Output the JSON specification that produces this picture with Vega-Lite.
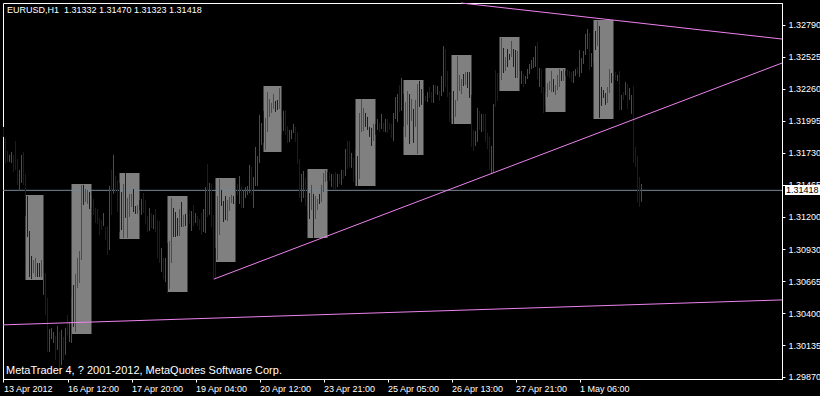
{
"$schema":"https://vega.github.io/schema/vega-lite/v6.json",
"width":779,"height":376,
"autosize":{"type":"none"},
"padding":{"left":3,"top":3,"right":38,"bottom":17},
"background":"#000000",
"config":{"view":{"stroke":"#ffffff","strokeWidth":1,"fill":"#000000"},
 "axisX":{"grid":false,"domainColor":"#ffffff","tickColor":"#ffffff","tickSize":3,"labelColor":"#ffffff","labelFont":"Liberation Sans","labelFontSize":9,"labelAlign":"left","labelBaseline":"top","labelPadding":2,"labelOverlap":false,"labelFlush":false,"labelBound":false,"title":null},
 "axisY":{"grid":false,"domainColor":"#ffffff","tickColor":"#ffffff","tickSize":3,"labelColor":"#ffffff","labelFont":"Liberation Sans","labelFontSize":9,"labelAlign":"left","labelBaseline":"middle","labelPadding":3,"labelOverlap":false,"labelFlush":false,"labelBound":false,"title":null}},
"datasets":{
"boxes":[{"a":11,"b":20,"h":1.31380,"l":1.30674},{"a":34,"b":44,"h":1.31471,"l":1.30227},{"a":58,"b":68,"h":1.31562,"l":1.31014},{"a":82,"b":92,"h":1.31371,"l":1.30574},{"a":106,"b":116,"h":1.31521,"l":1.30823},{"a":130,"b":139,"h":1.32283,"l":1.31736},{"a":152,"b":162,"h":1.31595,"l":1.31023},{"a":176,"b":186,"h":1.32175,"l":1.31454},{"a":200,"b":210,"h":1.32333,"l":1.31712},{"a":224,"b":234,"h":1.32541,"l":1.31969},{"a":248,"b":258,"h":1.32690,"l":1.32242},{"a":271,"b":281,"h":1.32433,"l":1.32068},{"a":295,"b":305,"h":1.32831,"l":1.32010}],
"lines":[{"id":"top","i":228.75,"p":1.32972},{"id":"top","i":389.25,"p":1.32673},{"id":"mid","i":105.25,"p":1.30682},{"id":"mid","i":389.25,"p":1.32474},{"id":"low","i":-0.25,"p":1.30302},{"id":"low","i":389.25,"p":1.30509}],
"bars":[
{"i":0,"h":1.31944,"l":1.31861,"c":"dn"},{"i":1,"h":1.31853,"l":1.31645,"c":"dn"},{"i":2,"h":1.31745,"l":1.31653,"c":"dn"},{"i":3,"h":1.31712,"l":1.31653,"c":"up"},{"i":4,"h":1.31736,"l":1.31645,"c":"up"},{"i":5,"h":1.31712,"l":1.31570,"c":"dn"},{"i":6,"h":1.31828,"l":1.31587,"c":"dn"},{"i":7,"h":1.31678,"l":1.31463,"c":"dn"},{"i":8,"h":1.31587,"l":1.31413,"c":"up"},{"i":9,"h":1.31712,"l":1.31479,"c":"up"},
{"i":10,"h":1.31736,"l":1.31463,"c":"dn"},{"i":11,"h":1.31554,"l":1.31205,"c":"dn"},{"i":12,"h":1.31371,"l":1.31031,"c":"dn"},{"i":13,"h":1.31081,"l":1.30699,"c":"dn"},{"i":14,"h":1.30873,"l":1.30682,"c":"dn"},{"i":15,"h":1.30840,"l":1.30732,"c":"up"},{"i":16,"h":1.30857,"l":1.30699,"c":"up"},{"i":17,"h":1.30815,"l":1.30699,"c":"dn"},{"i":18,"h":1.30815,"l":1.30699,"c":"dn"},{"i":19,"h":1.30840,"l":1.30699,"c":"up"},
{"i":20,"h":1.30732,"l":1.30550,"c":"up"},{"i":21,"h":1.30732,"l":1.30385,"c":"dn"},{"i":22,"h":1.30525,"l":1.30077,"c":"dn"},{"i":23,"h":1.30268,"l":1.30077,"c":"up"},{"i":24,"h":1.30277,"l":1.30185,"c":"up"},{"i":25,"h":1.30243,"l":1.30152,"c":"up"},{"i":26,"h":1.30210,"l":1.30011,"c":"dn"},{"i":27,"h":1.30293,"l":1.30094,"c":"up"},{"i":28,"h":1.30243,"l":1.29928,"c":"dn"},{"i":29,"h":1.30260,"l":1.29970,"c":"up"},
{"i":30,"h":1.30202,"l":1.30011,"c":"dn"},{"i":31,"h":1.30277,"l":1.30053,"c":"up"},{"i":32,"h":1.30385,"l":1.30219,"c":"dn"},{"i":33,"h":1.30326,"l":1.30160,"c":"up"},{"i":34,"h":1.30533,"l":1.30152,"c":"up"},{"i":35,"h":1.30633,"l":1.30285,"c":"dn"},{"i":36,"h":1.30724,"l":1.30243,"c":"up"},{"i":37,"h":1.30857,"l":1.30608,"c":"up"},{"i":38,"h":1.30915,"l":1.30649,"c":"up"},{"i":39,"h":1.31463,"l":1.30840,"c":"up"},
{"i":40,"h":1.31463,"l":1.31297,"c":"dn"},{"i":41,"h":1.31429,"l":1.31321,"c":"up"},{"i":42,"h":1.31421,"l":1.31305,"c":"up"},{"i":43,"h":1.31404,"l":1.31263,"c":"dn"},{"i":44,"h":1.31371,"l":1.31280,"c":"up"},{"i":45,"h":1.31346,"l":1.31214,"c":"dn"},{"i":46,"h":1.31272,"l":1.31147,"c":"dn"},{"i":47,"h":1.31263,"l":1.31139,"c":"dn"},{"i":48,"h":1.31189,"l":1.31048,"c":"dn"},{"i":49,"h":1.31172,"l":1.31089,"c":"dn"},
{"i":50,"h":1.31230,"l":1.31122,"c":"up"},{"i":51,"h":1.31114,"l":1.31006,"c":"dn"},{"i":52,"h":1.31122,"l":1.30882,"c":"dn"},{"i":53,"h":1.31454,"l":1.30923,"c":"up"},{"i":54,"h":1.31587,"l":1.31214,"c":"dn"},{"i":55,"h":1.31712,"l":1.31388,"c":"up"},{"i":56,"h":1.31537,"l":1.31396,"c":"dn"},{"i":57,"h":1.31504,"l":1.31238,"c":"dn"},{"i":58,"h":1.31479,"l":1.31072,"c":"dn"},{"i":59,"h":1.31404,"l":1.31089,"c":"dn"},
{"i":60,"h":1.31471,"l":1.31023,"c":"up"},{"i":61,"h":1.31562,"l":1.31189,"c":"dn"},{"i":62,"h":1.31355,"l":1.31023,"c":"up"},{"i":63,"h":1.31388,"l":1.31197,"c":"up"},{"i":64,"h":1.31388,"l":1.31280,"c":"up"},{"i":65,"h":1.31429,"l":1.31238,"c":"dn"},{"i":66,"h":1.31288,"l":1.31222,"c":"dn"},{"i":67,"h":1.31297,"l":1.31222,"c":"up"},{"i":68,"h":1.31338,"l":1.31255,"c":"dn"},{"i":69,"h":1.31346,"l":1.31214,"c":"up"},
{"i":70,"h":1.31396,"l":1.31230,"c":"dn"},{"i":71,"h":1.31338,"l":1.31139,"c":"dn"},{"i":72,"h":1.31205,"l":1.31072,"c":"dn"},{"i":73,"h":1.31272,"l":1.31081,"c":"up"},{"i":74,"h":1.31230,"l":1.31106,"c":"dn"},{"i":75,"h":1.31214,"l":1.31097,"c":"up"},{"i":76,"h":1.31263,"l":1.31072,"c":"dn"},{"i":77,"h":1.31172,"l":1.30857,"c":"dn"},{"i":78,"h":1.31164,"l":1.30815,"c":"dn"},{"i":79,"h":1.30940,"l":1.30740,"c":"up"},
{"i":80,"h":1.30857,"l":1.30682,"c":"dn"},{"i":81,"h":1.30857,"l":1.30657,"c":"up"},{"i":82,"h":1.30981,"l":1.30566,"c":"dn"},{"i":83,"h":1.30998,"l":1.30599,"c":"up"},{"i":84,"h":1.31355,"l":1.30815,"c":"up"},{"i":85,"h":1.31272,"l":1.31031,"c":"dn"},{"i":86,"h":1.31238,"l":1.31031,"c":"dn"},{"i":87,"h":1.31189,"l":1.31039,"c":"dn"},{"i":88,"h":1.31263,"l":1.31039,"c":"up"},{"i":89,"h":1.31321,"l":1.31114,"c":"dn"},
{"i":90,"h":1.31214,"l":1.31114,"c":"up"},{"i":91,"h":1.31222,"l":1.31122,"c":"dn"},{"i":92,"h":1.31214,"l":1.31106,"c":"up"},{"i":93,"h":1.31255,"l":1.31139,"c":"dn"},{"i":94,"h":1.31247,"l":1.31081,"c":"up"},{"i":95,"h":1.31297,"l":1.31122,"c":"dn"},{"i":96,"h":1.31230,"l":1.31147,"c":"up"},{"i":97,"h":1.31205,"l":1.31122,"c":"dn"},{"i":98,"h":1.31180,"l":1.31089,"c":"dn"},{"i":99,"h":1.31230,"l":1.31048,"c":"dn"},
{"i":100,"h":1.31263,"l":1.31072,"c":"up"},{"i":101,"h":1.31446,"l":1.31064,"c":"up"},{"i":102,"h":1.31637,"l":1.31197,"c":"dn"},{"i":103,"h":1.31479,"l":1.31214,"c":"up"},{"i":104,"h":1.31471,"l":1.31114,"c":"dn"},{"i":105,"h":1.31214,"l":1.30674,"c":"dn"},{"i":106,"h":1.30940,"l":1.30682,"c":"dn"},{"i":107,"h":1.31371,"l":1.30840,"c":"up"},{"i":108,"h":1.31512,"l":1.31048,"c":"up"},{"i":109,"h":1.31421,"l":1.31288,"c":"dn"},
{"i":110,"h":1.31330,"l":1.31155,"c":"dn"},{"i":111,"h":1.31371,"l":1.31172,"c":"dn"},{"i":112,"h":1.31338,"l":1.31164,"c":"up"},{"i":113,"h":1.31363,"l":1.31247,"c":"up"},{"i":114,"h":1.31380,"l":1.31313,"c":"up"},{"i":115,"h":1.31371,"l":1.31305,"c":"dn"},{"i":116,"h":1.31429,"l":1.31321,"c":"up"},{"i":117,"h":1.31471,"l":1.31380,"c":"dn"},{"i":118,"h":1.31537,"l":1.31305,"c":"up"},{"i":119,"h":1.31454,"l":1.31272,"c":"dn"},
{"i":120,"h":1.31421,"l":1.31272,"c":"up"},{"i":121,"h":1.31446,"l":1.31355,"c":"up"},{"i":122,"h":1.31454,"l":1.31380,"c":"up"},{"i":123,"h":1.31629,"l":1.31396,"c":"up"},{"i":124,"h":1.31612,"l":1.31380,"c":"dn"},{"i":125,"h":1.31529,"l":1.31272,"c":"up"},{"i":126,"h":1.31778,"l":1.31454,"c":"up"},{"i":127,"h":1.31703,"l":1.31454,"c":"up"},{"i":128,"h":1.32044,"l":1.31645,"c":"up"},{"i":129,"h":1.31977,"l":1.31795,"c":"up"},
{"i":130,"h":1.32077,"l":1.31811,"c":"dn"},{"i":131,"h":1.32019,"l":1.31753,"c":"up"},{"i":132,"h":1.32233,"l":1.31902,"c":"up"},{"i":133,"h":1.32175,"l":1.32027,"c":"up"},{"i":134,"h":1.32143,"l":1.32060,"c":"up"},{"i":135,"h":1.32217,"l":1.32093,"c":"up"},{"i":136,"h":1.32160,"l":1.32068,"c":"dn"},{"i":137,"h":1.32168,"l":1.32085,"c":"dn"},{"i":138,"h":1.32267,"l":1.32093,"c":"up"},{"i":139,"h":1.32027,"l":1.31886,"c":"up"},
{"i":140,"h":1.32077,"l":1.31911,"c":"up"},{"i":141,"h":1.32085,"l":1.31878,"c":"dn"},{"i":142,"h":1.31952,"l":1.31811,"c":"dn"},{"i":143,"h":1.31919,"l":1.31819,"c":"up"},{"i":144,"h":1.31919,"l":1.31844,"c":"up"},{"i":145,"h":1.31969,"l":1.31894,"c":"up"},{"i":146,"h":1.31944,"l":1.31819,"c":"dn"},{"i":147,"h":1.31902,"l":1.31637,"c":"dn"},{"i":148,"h":1.31678,"l":1.31355,"c":"dn"},{"i":149,"h":1.31554,"l":1.31321,"c":"up"},
{"i":150,"h":1.31579,"l":1.31355,"c":"up"},{"i":151,"h":1.31521,"l":1.31288,"c":"dn"},{"i":152,"h":1.31429,"l":1.31247,"c":"up"},{"i":153,"h":1.31396,"l":1.31180,"c":"dn"},{"i":154,"h":1.31463,"l":1.31255,"c":"up"},{"i":155,"h":1.31388,"l":1.31023,"c":"dn"},{"i":156,"h":1.31371,"l":1.31180,"c":"up"},{"i":157,"h":1.31346,"l":1.31255,"c":"up"},{"i":158,"h":1.31388,"l":1.31305,"c":"dn"},{"i":159,"h":1.31463,"l":1.31321,"c":"up"},
{"i":160,"h":1.31562,"l":1.31404,"c":"up"},{"i":161,"h":1.31587,"l":1.31487,"c":"up"},{"i":162,"h":1.31570,"l":1.31496,"c":"dn"},{"i":163,"h":1.31570,"l":1.31496,"c":"dn"},{"i":164,"h":1.31554,"l":1.31446,"c":"up"},{"i":165,"h":1.31554,"l":1.31429,"c":"dn"},{"i":166,"h":1.31570,"l":1.31429,"c":"dn"},{"i":167,"h":1.31554,"l":1.31446,"c":"up"},{"i":168,"h":1.31554,"l":1.31471,"c":"dn"},{"i":169,"h":1.31587,"l":1.31463,"c":"up"},
{"i":170,"h":1.31587,"l":1.31512,"c":"dn"},{"i":171,"h":1.31761,"l":1.31537,"c":"up"},{"i":172,"h":1.31828,"l":1.31595,"c":"dn"},{"i":173,"h":1.31828,"l":1.31612,"c":"dn"},{"i":174,"h":1.31728,"l":1.31604,"c":"up"},{"i":175,"h":1.31687,"l":1.31487,"c":"dn"},{"i":176,"h":1.31761,"l":1.31529,"c":"up"},{"i":177,"h":1.31703,"l":1.31454,"c":"dn"},{"i":178,"h":1.32060,"l":1.31512,"c":"up"},{"i":179,"h":1.32175,"l":1.31902,"c":"up"},
{"i":180,"h":1.32102,"l":1.31911,"c":"up"},{"i":181,"h":1.32060,"l":1.31944,"c":"dn"},{"i":182,"h":1.32027,"l":1.31919,"c":"dn"},{"i":183,"h":1.31944,"l":1.31861,"c":"dn"},{"i":184,"h":1.31936,"l":1.31786,"c":"dn"},{"i":185,"h":1.31969,"l":1.31828,"c":"up"},{"i":186,"h":1.31969,"l":1.31878,"c":"dn"},{"i":187,"h":1.32010,"l":1.31919,"c":"up"},{"i":188,"h":1.31977,"l":1.31902,"c":"dn"},{"i":189,"h":1.32052,"l":1.31927,"c":"up"},
{"i":190,"h":1.31977,"l":1.31902,"c":"dn"},{"i":191,"h":1.32010,"l":1.31902,"c":"up"},{"i":192,"h":1.32010,"l":1.31894,"c":"dn"},{"i":193,"h":1.31977,"l":1.31919,"c":"dn"},{"i":194,"h":1.31969,"l":1.31853,"c":"dn"},{"i":195,"h":1.32060,"l":1.31828,"c":"up"},{"i":196,"h":1.32192,"l":1.32010,"c":"up"},{"i":197,"h":1.32217,"l":1.31985,"c":"up"},{"i":198,"h":1.32292,"l":1.32068,"c":"dn"},{"i":199,"h":1.32350,"l":1.32077,"c":"up"},
{"i":200,"h":1.32217,"l":1.31944,"c":"dn"},{"i":201,"h":1.32151,"l":1.31861,"c":"up"},{"i":202,"h":1.32242,"l":1.31961,"c":"up"},{"i":203,"h":1.32217,"l":1.31803,"c":"dn"},{"i":204,"h":1.32175,"l":1.31994,"c":"up"},{"i":205,"h":1.32093,"l":1.31811,"c":"dn"},{"i":206,"h":1.32168,"l":1.31944,"c":"up"},{"i":207,"h":1.32300,"l":1.31720,"c":"up"},{"i":208,"h":1.32325,"l":1.32110,"c":"dn"},{"i":209,"h":1.32258,"l":1.32127,"c":"dn"},
{"i":210,"h":1.32225,"l":1.32143,"c":"up"},{"i":211,"h":1.32200,"l":1.32160,"c":"dn"},{"i":212,"h":1.32233,"l":1.32151,"c":"up"},{"i":213,"h":1.32275,"l":1.32184,"c":"dn"},{"i":214,"h":1.32233,"l":1.32143,"c":"dn"},{"i":215,"h":1.32292,"l":1.32143,"c":"up"},{"i":216,"h":1.32292,"l":1.32217,"c":"dn"},{"i":217,"h":1.32283,"l":1.32209,"c":"up"},{"i":218,"h":1.32242,"l":1.32160,"c":"dn"},{"i":219,"h":1.32366,"l":1.32200,"c":"up"},
{"i":220,"h":1.32615,"l":1.32233,"c":"up"},{"i":221,"h":1.32590,"l":1.32275,"c":"dn"},{"i":222,"h":1.32408,"l":1.32192,"c":"dn"},{"i":223,"h":1.32233,"l":1.31985,"c":"dn"},{"i":224,"h":1.32168,"l":1.32010,"c":"up"},{"i":225,"h":1.32242,"l":1.31969,"c":"dn"},{"i":226,"h":1.32168,"l":1.32027,"c":"up"},{"i":227,"h":1.32532,"l":1.32160,"c":"up"},{"i":228,"h":1.32375,"l":1.32242,"c":"up"},{"i":229,"h":1.32341,"l":1.32217,"c":"up"},
{"i":230,"h":1.32383,"l":1.32283,"c":"dn"},{"i":231,"h":1.32399,"l":1.32292,"c":"up"},{"i":232,"h":1.32399,"l":1.32267,"c":"dn"},{"i":233,"h":1.32399,"l":1.32184,"c":"dn"},{"i":234,"h":1.32209,"l":1.31778,"c":"dn"},{"i":235,"h":1.31919,"l":1.31745,"c":"dn"},{"i":236,"h":1.31911,"l":1.31786,"c":"up"},{"i":237,"h":1.32102,"l":1.31819,"c":"up"},{"i":238,"h":1.32077,"l":1.31919,"c":"dn"},{"i":239,"h":1.32052,"l":1.31902,"c":"up"},
{"i":240,"h":1.32052,"l":1.31911,"c":"dn"},{"i":241,"h":1.32052,"l":1.31819,"c":"dn"},{"i":242,"h":1.31894,"l":1.31761,"c":"dn"},{"i":243,"h":1.31861,"l":1.31587,"c":"dn"},{"i":244,"h":1.31786,"l":1.31554,"c":"up"},{"i":245,"h":1.32135,"l":1.31562,"c":"up"},{"i":246,"h":1.32416,"l":1.32110,"c":"dn"},{"i":247,"h":1.32391,"l":1.32160,"c":"dn"},{"i":248,"h":1.32391,"l":1.32242,"c":"up"},{"i":249,"h":1.32682,"l":1.32333,"c":"up"},
{"i":250,"h":1.32599,"l":1.32391,"c":"dn"},{"i":251,"h":1.32524,"l":1.32408,"c":"up"},{"i":252,"h":1.32590,"l":1.32441,"c":"dn"},{"i":253,"h":1.32549,"l":1.32499,"c":"dn"},{"i":254,"h":1.32657,"l":1.32524,"c":"up"},{"i":255,"h":1.32590,"l":1.32441,"c":"dn"},{"i":256,"h":1.32582,"l":1.32350,"c":"dn"},{"i":257,"h":1.32574,"l":1.32350,"c":"up"},{"i":258,"h":1.32408,"l":1.32341,"c":"up"},{"i":259,"h":1.32408,"l":1.32300,"c":"up"},
{"i":260,"h":1.32383,"l":1.32275,"c":"dn"},{"i":261,"h":1.32366,"l":1.32300,"c":"up"},{"i":262,"h":1.32424,"l":1.32341,"c":"up"},{"i":263,"h":1.32466,"l":1.32383,"c":"up"},{"i":264,"h":1.32499,"l":1.32424,"c":"up"},{"i":265,"h":1.32524,"l":1.32433,"c":"up"},{"i":266,"h":1.32615,"l":1.32441,"c":"up"},{"i":267,"h":1.32648,"l":1.32341,"c":"dn"},{"i":268,"h":1.32433,"l":1.32275,"c":"up"},{"i":269,"h":1.32424,"l":1.32225,"c":"dn"},
{"i":270,"h":1.32275,"l":1.32060,"c":"dn"},{"i":271,"h":1.32225,"l":1.32118,"c":"up"},{"i":272,"h":1.32308,"l":1.32192,"c":"up"},{"i":273,"h":1.32325,"l":1.32250,"c":"up"},{"i":274,"h":1.32408,"l":1.32233,"c":"up"},{"i":275,"h":1.32341,"l":1.32233,"c":"dn"},{"i":276,"h":1.32292,"l":1.32209,"c":"up"},{"i":277,"h":1.32375,"l":1.32250,"c":"up"},{"i":278,"h":1.32424,"l":1.32275,"c":"up"},{"i":279,"h":1.32408,"l":1.32325,"c":"dn"},
{"i":280,"h":1.32424,"l":1.32325,"c":"up"},{"i":281,"h":1.32408,"l":1.32366,"c":"dn"},{"i":282,"h":1.32416,"l":1.32366,"c":"dn"},{"i":283,"h":1.32408,"l":1.32350,"c":"dn"},{"i":284,"h":1.32399,"l":1.32316,"c":"dn"},{"i":285,"h":1.32408,"l":1.32308,"c":"up"},{"i":286,"h":1.32424,"l":1.32366,"c":"up"},{"i":287,"h":1.32441,"l":1.32383,"c":"dn"},{"i":288,"h":1.32582,"l":1.32358,"c":"up"},{"i":289,"h":1.32516,"l":1.32391,"c":"up"},
{"i":290,"h":1.32574,"l":1.32466,"c":"up"},{"i":291,"h":1.32715,"l":1.32541,"c":"up"},{"i":292,"h":1.32756,"l":1.32590,"c":"up"},{"i":293,"h":1.32723,"l":1.32416,"c":"dn"},{"i":294,"h":1.32557,"l":1.32441,"c":"up"},{"i":295,"h":1.32748,"l":1.32482,"c":"up"},{"i":296,"h":1.32740,"l":1.32582,"c":"dn"},{"i":297,"h":1.32823,"l":1.32615,"c":"up"},{"i":298,"h":1.32781,"l":1.32019,"c":"dn"},{"i":299,"h":1.32275,"l":1.32118,"c":"dn"},
{"i":300,"h":1.32250,"l":1.32184,"c":"dn"},{"i":301,"h":1.32225,"l":1.32127,"c":"dn"},{"i":302,"h":1.32275,"l":1.32143,"c":"up"},{"i":303,"h":1.32424,"l":1.32225,"c":"up"},{"i":304,"h":1.32391,"l":1.32308,"c":"dn"},{"i":305,"h":1.32391,"l":1.32366,"c":"up"},{"i":306,"h":1.32399,"l":1.32333,"c":"dn"},{"i":307,"h":1.32375,"l":1.32325,"c":"up"},{"i":308,"h":1.32408,"l":1.32085,"c":"dn"},{"i":309,"h":1.32209,"l":1.32085,"c":"up"},
{"i":310,"h":1.32233,"l":1.32168,"c":"dn"},{"i":311,"h":1.32316,"l":1.32209,"c":"up"},{"i":312,"h":1.32300,"l":1.32093,"c":"dn"},{"i":313,"h":1.32267,"l":1.32168,"c":"up"},{"i":314,"h":1.32209,"l":1.32052,"c":"up"},{"i":315,"h":1.32283,"l":1.31645,"c":"dn"},{"i":316,"h":1.31778,"l":1.31612,"c":"dn"},{"i":317,"h":1.31703,"l":1.31321,"c":"dn"},{"i":318,"h":1.31529,"l":1.31280,"c":"dn"},{"i":319,"h":1.31470,"l":1.31323,"c":"up"}
]},
"layer":[
{"data":{"name":"boxes"},"mark":{"type":"rect","color":"#808080"},
 "encoding":{
  "x":{"field":"a","type":"quantitative","scale":{"domain":[-0.25,389.25],"nice":false,"zero":false},
   "axis":{"values":[0,32,64,96,128,160,192,224,256,288],"tickCount":30,"labelOverlap":false,"labelExpr":"['13 Apr 2012','16 Apr 12:00','17 Apr 20:00','19 Apr 04:00','20 Apr 12:00','23 Apr 21:00','25 Apr 05:00','26 Apr 13:00','27 Apr 21:00','1 May 06:00'][round(datum.value/32)]"}},
  "x2":{"field":"b"},
  "y":{"field":"h","type":"quantitative","scale":{"domain":[1.29853,1.32972],"nice":false,"zero":false},
   "axis":{"orient":"right","values":[1.2987,1.30135,1.304,1.30665,1.3093,1.312,1.31465,1.3173,1.31995,1.3226,1.32525,1.3279],"tickCount":30,"format":".5f","labelOverlap":false,"labelBound":false,"labelFlush":false}},
  "y2":{"field":"l"}}},
{"data":{"values":[{"p":1.31418}]},"mark":{"type":"rule","color":"#778899","strokeWidth":1},
 "encoding":{"y":{"field":"p","type":"quantitative"}}},
{"data":{"name":"bars"},"mark":{"type":"rule","strokeWidth":1,"opacity":1},
 "encoding":{
  "x":{"field":"i","type":"quantitative"},
  "y":{"field":"h","type":"quantitative"},
  "y2":{"field":"l"},
  "stroke":{"field":"c","type":"nominal","scale":{"domain":["up","dn"],"range":["#ff0000","#0000ff"]},"legend":null}}},
{"data":{"name":"lines"},"mark":{"type":"line","color":"#ee82ee","strokeWidth":1},
 "encoding":{
  "x":{"field":"i","type":"quantitative"},
  "y":{"field":"p","type":"quantitative"},
  "detail":{"field":"id","type":"nominal"}}},
{"data":{"values":[{"t":"EURUSD,H1\u00a0 1.31332 1.31470 1.31323 1.31418"}]},
 "mark":{"type":"text","color":"#ffffff","font":"Liberation Sans","fontSize":9,"align":"left","baseline":"middle"},
 "encoding":{"text":{"field":"t"},"x":{"datum":1.75,"type":"quantitative"},"y":{"datum":1.3291,"type":"quantitative"}}},
{"data":{"values":[{"t":"MetaTrader 4, ? 2001-2012, MetaQuotes Software Corp."}]},
 "mark":{"type":"text","color":"#ffffff","font":"Liberation Sans","fontSize":11,"align":"left","baseline":"middle"},
 "encoding":{"text":{"field":"t"},"x":{"datum":1.25,"type":"quantitative"},"y":{"datum":1.2992,"type":"quantitative"}}},
{"data":{"values":[{"t":"1.31418"}]},
 "mark":{"type":"rect","color":"#ffffff"},
 "encoding":{"x":{"datum":390.75,"type":"quantitative"},"x2":{"datum":410},"y":{"datum":1.31463,"type":"quantitative"},"y2":{"datum":1.3138}}},
{"data":{"values":[{"t":"1.31418"}]},
 "mark":{"type":"text","color":"#000000","font":"Liberation Sans","fontSize":9,"align":"left","baseline":"middle"},
 "encoding":{"text":{"field":"t"},"x":{"datum":391.25,"type":"quantitative"},"y":{"datum":1.31418,"type":"quantitative"}}}
]
}
